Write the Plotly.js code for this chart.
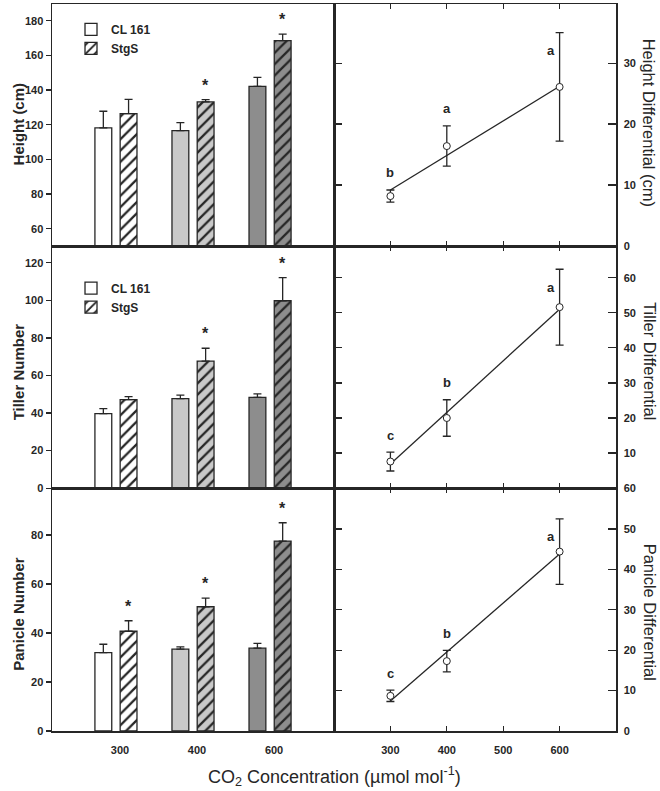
<!DOCTYPE html>
<html><head><meta charset="utf-8">
<script src="https://cdn.plot.ly/plotly-3.0.1.min.js"></script>
<style>html,body{margin:0;padding:0;background:#fff}</style>
</head><body>
<div id="chart" style="width:660px;height:791px"></div>
<script>
// ---------------- DATA ----------------
const co2Categories = ['300', '400', '600'];
const co2Numeric = [300, 400, 600];
const co2TickVals = [300, 400, 500, 600];

const heightCL = [118.2, 116.6, 142.2];
const heightCLErr = [9.6, 4.6, 5.2];
const heightStg = [126.4, 133.2, 168.6];
const heightStgErr = [8.3, 1.3, 3.7];
const heightStar = [false, true, true];

const tillerCL = [39.7, 47.7, 48.4];
const tillerCLErr = [2.7, 1.8, 1.8];
const tillerStg = [47.2, 67.6, 99.8];
const tillerStgErr = [1.6, 6.9, 12.3];
const tillerStar = [false, true, true];

const panicleCL = [32.0, 33.4, 33.8];
const panicleCLErr = [3.4, 0.9, 2.0];
const panicleStg = [40.7, 50.7, 77.5];
const panicleStgErr = [4.3, 3.5, 7.5];
const panicleStar = [true, true, true];

const heightDiff = [8.2, 16.4, 26.1];
const heightDiffErr = [1.0, 3.3, 8.9];
const heightFit = [9.2, 26.2];
const heightLetters = ['b', 'a', 'a'];

const tillerDiff = [7.6, 20.0, 51.6];
const tillerDiffErr = [2.7, 5.2, 10.8];
const tillerFit = [6.9, 51.0];
const tillerLetters = ['c', 'b', 'a'];

const panicleDiff = [8.7, 17.3, 44.4];
const panicleDiffErr = [1.4, 2.65, 8.1];
const panicleFit = [7.4, 43.8];
const panicleLetters = ['c', 'b', 'a'];

const fitX = [300, 600];

// right-axis tick values per row (middle row's 0 coincides with bottom row's 60)
const rightTicks = [[0, 10, 20, 30], [10, 20, 30, 40, 50, 60], [0, 10, 20, 30, 40, 50, 60]];

// ---------------- STYLE ----------------
const FONT = 'Arial, "Liberation Sans", Helvetica, sans-serif';
const INK = '#262626';
const barFills = ['#ffffff', '#c9c9c9', '#8d8d8d'];
const BARGAP = 0.345;
const starOffset = (1 - BARGAP) / 4;

const panels = [
  {cl: heightCL, clErr: heightCLErr, stg: heightStg, stgErr: heightStgErr, star: heightStar,
   diff: heightDiff, diffErr: heightDiffErr, fit: heightFit, letters: heightLetters,
   xl: 'x', yl: 'y', xr: 'x2', yr: 'y2', legend: 'legend'},
  {cl: tillerCL, clErr: tillerCLErr, stg: tillerStg, stgErr: tillerStgErr, star: tillerStar,
   diff: tillerDiff, diffErr: tillerDiffErr, fit: tillerFit, letters: tillerLetters,
   xl: 'x3', yl: 'y3', xr: 'x4', yr: 'y4', legend: 'legend2'},
  {cl: panicleCL, clErr: panicleCLErr, stg: panicleStg, stgErr: panicleStgErr, star: panicleStar,
   diff: panicleDiff, diffErr: panicleDiffErr, fit: panicleFit, letters: panicleLetters,
   xl: 'x5', yl: 'y5', xr: 'x6', yr: 'y6', legend: null}
];

const traces = [];
const annotations = [];

panels.forEach((p, pi) => {
  const showLeg = p.legend !== null;
  traces.push({
    type: 'bar', name: 'CL 161', x: co2Categories, y: p.cl, offsetgroup: 'cl',
    legendgroup: 'cl' + pi,
    xaxis: p.xl, yaxis: p.yl, showlegend: showLeg, legend: p.legend || 'legend',
    marker: {color: barFills, line: {color: INK, width: 1.3}},
    error_y: {type: 'data', symmetric: false, array: p.clErr, arrayminus: [],
              color: INK, thickness: 1.3, width: 4}
  });
  co2Categories.forEach((c, i) => {
    traces.push({
      type: 'bar', name: 'StgS', x: [c], y: [p.stg[i]], offsetgroup: 'stg',
      legendgroup: 'stg' + pi,
      xaxis: p.xl, yaxis: p.yl, showlegend: showLeg && i === 0, legend: p.legend || 'legend',
      marker: {color: barFills[i], line: {color: INK, width: 1.3},
               pattern: {shape: '/', bgcolor: barFills[i], fgcolor: INK, size: 8, solidity: 0.28}},
      error_y: {type: 'data', symmetric: false, array: [p.stgErr[i]], arrayminus: [],
                color: INK, thickness: 1.3, width: 4}
    });
  });
  // regression line
  traces.push({
    type: 'scatter', mode: 'lines', x: fitX, y: p.fit, xaxis: p.xr, yaxis: p.yr,
    showlegend: false, line: {color: INK, width: 1.3}
  });
  // differential points
  traces.push({
    type: 'scatter', mode: 'markers', x: co2Numeric, y: p.diff, xaxis: p.xr, yaxis: p.yr,
    showlegend: false,
    marker: {symbol: 'circle', size: 7, color: '#ffffff', line: {color: INK, width: 1}},
    error_y: {type: 'data', array: p.diffErr, color: INK, thickness: 1.3, width: 4}
  });
  // asterisks
  p.stg.forEach((v, i) => {
    if (p.star[i]) {
      annotations.push({
        xref: p.xl, yref: p.yl, x: i + starOffset, y: v + p.stgErr[i],
        text: '*', showarrow: false, yanchor: 'bottom', yshift: 4,
        font: {family: FONT, size: 16, weight: 'bold', color: INK}
      });
    }
  });
  // letters
  p.diff.forEach((v, i) => {
    const last = i === p.diff.length - 1;
    annotations.push({
      xref: p.xr, yref: p.yr, x: co2Numeric[i], y: v + p.diffErr[i],
      text: p.letters[i], showarrow: false, yanchor: 'middle',
      yshift: last ? -18 : 17, xshift: last ? -9 : 0,
      font: {family: FONT, size: 13, weight: 'bold', color: INK}
    });
  });
});

// titles
const leftTitles = [['Height (cm)', 0.835], ['Tiller Number', 0.494], ['Panicle Number', 0.162]];
leftTitles.forEach(t => annotations.push({
  xref: 'paper', yref: 'paper', x: -0.0594, y: t[1], text: t[0], textangle: -90,
  showarrow: false, xanchor: 'center', yanchor: 'middle',
  font: {family: FONT, size: 15, weight: 'bold', color: INK}
}));
const rightTitles = [['Height Differential (cm)', 0.837], ['Tiller Differential', 0.509], ['Panicle Differential', 0.163]];
rightTitles.forEach(t => annotations.push({
  xref: 'paper', yref: 'paper', x: 1.060, y: t[1], text: t[0], textangle: 90,
  showarrow: false, xanchor: 'center', yanchor: 'middle',
  font: {family: FONT, size: 16.5, color: INK}
}));
annotations.push({
  xref: 'paper', yref: 'paper', x: 0.5, y: -0.062, showarrow: false,
  xanchor: 'center', yanchor: 'middle',
  text: 'CO<sub>2</sub> Concentration (µmol mol<sup>-1</sup>)',
  font: {family: FONT, size: 18, color: INK}
});

const rowDom = [[0.667, 1], [0.334, 0.667], [0, 0.334]];
const tickFont = {family: FONT, size: 11, weight: 'bold', color: INK};
const leftRanges = [[50, 189.7], [0, 128.9], [0, 99.1]];
const rightRanges = [[0, 39.7], [0, 69], [0, 60.1]];

const legendFont = {family: FONT, size: 12, weight: 'bold', color: INK};
const layout = {
  width: 660, height: 791,
  margin: {l: 52, r: 44, t: 4, b: 60},
  paper_bgcolor: '#ffffff', plot_bgcolor: '#ffffff',
  barmode: 'group', bargap: BARGAP, bargroupgap: 0.333,
  font: {family: FONT, color: INK},
  annotations: annotations,
  legend: {x: 0.0337, xanchor: 'left', y: 0.985, yanchor: 'top', font: legendFont,
           bgcolor: 'rgba(0,0,0,0)', tracegroupgap: 0},
  legend2: {x: 0.0337, xanchor: 'left', y: 0.629, yanchor: 'top', font: legendFont,
            bgcolor: 'rgba(0,0,0,0)', tracegroupgap: 0}
};

const axisBase = {showgrid: false, zeroline: false, showline: true, linecolor: INK, linewidth: 1.5,
                  tickcolor: INK, tickwidth: 1.3, tickfont: tickFont, fixedrange: true};

for (let r = 0; r < 3; r++) {
  const li = 2 * r + 1, ri = 2 * r + 2;
  const ls = li === 1 ? '' : String(li);
  const rs = String(ri);
  const isBottom = r === 2;
  layout['xaxis' + ls] = Object.assign({}, axisBase, {
    type: 'category', domain: [0, 0.5], anchor: 'y' + ls, range: [-0.83, 2.83],
    ticks: '', mirror: true, showticklabels: isBottom, ticklabelshift: 4, ticklabelstandoff: 8
  });
  layout['yaxis' + ls] = Object.assign({}, axisBase, {
    domain: rowDom[r], anchor: 'x' + ls, range: leftRanges[r], dtick: 20,
    ticks: 'outside', ticklen: 5, mirror: true
  });
  layout['yaxis' + (7 + r)] = Object.assign({}, axisBase, {
    overlaying: 'y' + ls, anchor: 'x' + ls, side: 'right', range: leftRanges[r], dtick: 20,
    ticks: 'inside', ticklen: 5, showticklabels: false, showline: false
  });
  layout['xaxis' + rs] = Object.assign({}, axisBase, {
    domain: [0.5, 1], anchor: 'y' + rs, range: [200, 700], tickvals: co2TickVals,
    ticks: 'inside', ticklen: 5, mirror: 'ticks', showticklabels: isBottom, ticklabelstandoff: 8
  });
  layout['yaxis' + rs] = Object.assign({}, axisBase, {
    domain: rowDom[r], anchor: 'x' + rs, side: 'right', range: rightRanges[r],
    tickvals: rightTicks[r], ticks: 'inside', ticklen: 8, mirror: 'ticks', ticklabelstandoff: 4
  });
}

Plotly.newPlot('chart', traces, layout, {staticPlot: true, displayModeBar: false});
</script>
</body></html>
